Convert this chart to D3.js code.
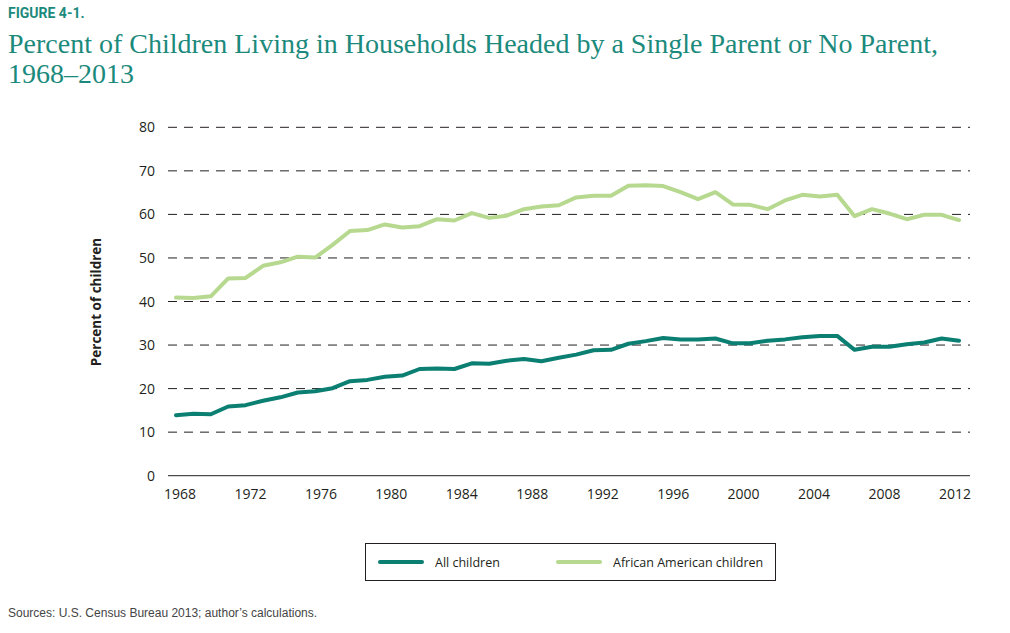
<!DOCTYPE html>
<html>
<head>
<meta charset="utf-8">
<script src="https://cdnjs.cloudflare.com/ajax/libs/d3/7.8.5/d3.min.js"></script>
<style>
  body { margin: 0; background: #fff; }
</style>
</head>
<body>
<script>
// data
var years = d3.range(1968, 2014);
var allChildren = [
  13.9, 14.2, 14.1, 15.9, 16.2, 17.2, 18.0, 19.1, 19.4, 20.1,
  21.7, 22.0, 22.7, 23.0, 24.5, 24.6, 24.5, 25.8, 25.7, 26.4,
  26.8, 26.3, 27.1, 27.8, 28.8, 28.9, 30.3, 30.9, 31.6, 31.3,
  31.3, 31.5, 30.4, 30.4, 31.0, 31.3, 31.8, 32.1, 32.1, 28.9,
  29.6, 29.6, 30.2, 30.6, 31.5, 31.0
];
var africanAmerican = [
  40.9, 40.8, 41.2, 45.3, 45.4, 48.2, 49.0, 50.3, 50.1, 53.0,
  56.2, 56.4, 57.7, 57.0, 57.3, 58.9, 58.6, 60.3, 59.2, 59.7,
  61.2, 61.8, 62.1, 63.9, 64.3, 64.3, 66.6, 66.7, 66.5, 65.1,
  63.5, 65.1, 62.3, 62.2, 61.2, 63.2, 64.5, 64.1, 64.5, 59.6,
  61.2, 60.2, 58.9, 59.9, 59.9, 58.7
];
var yTicks = [0, 10, 20, 30, 40, 50, 60, 70, 80];
var xTicks = [1968, 1972, 1976, 1980, 1984, 1988, 1992, 1996, 2000, 2004, 2008, 2012];
var seriesNames = ["All children", "African American children"];
var colors = ["#0b7f72", "#b6d98f"];

var w = 1010;
var h = 633;

var svg = d3.select("body")
  .append("svg")
  .attr("width", w)
  .attr("height", h);

var x = d3.scaleLinear().domain([1968, 2013]).range([176, 959]);
// tick labels in the original sit slightly off the data grid
var xLab = d3.scaleLinear().domain([1968, 2012]).range([180, 955]);
var y = d3.scaleLinear().domain([0, 80]).range([475.7, 127.3]);

// titles
svg.append("text")
  .attr("x", 8).attr("y", 18)
  .attr("font-family", "Roboto, sans-serif")
  .attr("font-weight", "bold")
  .attr("font-size", "14px")
  .attr("fill", "#1b8a7c")
  .text("FIGURE 4-1.");

svg.append("text")
  .attr("x", 8).attr("y", 53)
  .attr("font-family", "'Liberation Serif', serif")
  .attr("font-size", "28px")
  .attr("fill", "#1b8a7c")
  .text("Percent of Children Living in Households Headed by a Single Parent or No Parent,");

svg.append("text")
  .attr("x", 8).attr("y", 83)
  .attr("font-family", "'Liberation Serif', serif")
  .attr("font-size", "28px")
  .attr("fill", "#1b8a7c")
  .text("1968\u20132013");

// gridlines
svg.selectAll("line.grid")
  .data(yTicks)
  .enter()
  .append("line")
  .attr("class", "grid")
  .attr("x1", 168).attr("x2", 970)
  .attr("y1", function(d) { return y(d); })
  .attr("y2", function(d) { return y(d); })
  .attr("stroke", "#231f20")
  .attr("stroke-width", 1)
  .attr("stroke-dasharray", function(d) { return d === 0 ? null : "9,7"; });

// y tick labels
svg.selectAll("text.ylab")
  .data(yTicks)
  .enter()
  .append("text")
  .attr("class", "ylab")
  .attr("x", 155)
  .attr("y", function(d) { return y(d) + 5; })
  .attr("text-anchor", "end")
  .attr("font-family", "'Open Sans', sans-serif")
  .attr("font-size", "14px")
  .attr("fill", "#231f20")
  .text(function(d) { return d; });

// x tick labels
svg.selectAll("text.xlab")
  .data(xTicks)
  .enter()
  .append("text")
  .attr("class", "xlab")
  .attr("x", function(d) { return xLab(d); })
  .attr("y", 499)
  .attr("text-anchor", "middle")
  .attr("font-family", "'Open Sans', sans-serif")
  .attr("font-size", "14px")
  .attr("fill", "#231f20")
  .text(function(d) { return d; });

// y axis title
svg.append("text")
  .attr("transform", "translate(101,302) rotate(-90)")
  .attr("text-anchor", "middle")
  .attr("font-family", "'Open Sans', sans-serif")
  .attr("font-weight", "bold")
  .attr("font-size", "13.5px")
  .attr("fill", "#231f20")
  .text("Percent of children");

// lines
var line = d3.line()
  .x(function(d, i) { return x(years[i]); })
  .y(function(d) { return y(d); });

svg.selectAll("path.series")
  .data([africanAmerican, allChildren])
  .enter()
  .append("path")
  .attr("class", "series")
  .attr("d", line)
  .attr("fill", "none")
  .attr("stroke", function(d, i) { return i === 0 ? colors[1] : colors[0]; })
  .attr("stroke-width", 4)
  .attr("stroke-linejoin", "round")
  .attr("stroke-linecap", "round");

// legend
svg.append("rect")
  .attr("x", 365.5).attr("y", 543.5)
  .attr("width", 410).attr("height", 37)
  .attr("fill", "none")
  .attr("stroke", "#231f20")
  .attr("stroke-width", 1);

var legX = [380, 558];
svg.selectAll("line.leg")
  .data(seriesNames)
  .enter()
  .append("line")
  .attr("class", "leg")
  .attr("x1", function(d, i) { return legX[i]; })
  .attr("x2", function(d, i) { return legX[i] + 42; })
  .attr("y1", 562).attr("y2", 562)
  .attr("stroke", function(d, i) { return colors[i]; })
  .attr("stroke-width", 4)
  .attr("stroke-linecap", "round");

svg.selectAll("text.leg")
  .data(seriesNames)
  .enter()
  .append("text")
  .attr("class", "leg")
  .attr("x", function(d, i) { return legX[i] + 55; })
  .attr("y", 566.5)
  .attr("font-family", "'Open Sans', sans-serif")
  .attr("font-size", "12.5px")
  .attr("fill", "#231f20")
  .text(function(d) { return d; });

// source note
svg.append("text")
  .attr("x", 8).attr("y", 617)
  .attr("font-family", "'Liberation Sans', Arial, sans-serif")
  .attr("font-size", "12px")
  .attr("fill", "#444")
  .text("Sources: U.S. Census Bureau 2013; author\u2019s calculations.");
</script>
</body>
</html>
